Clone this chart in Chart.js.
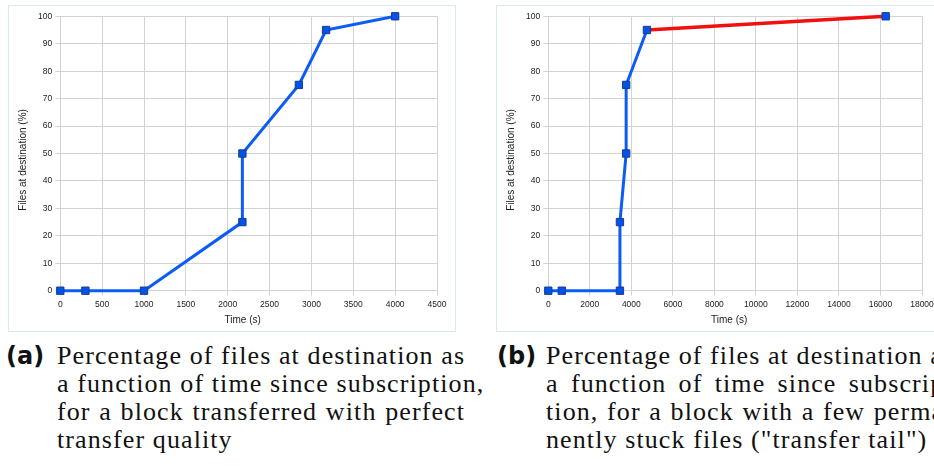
<!DOCTYPE html>
<html>
<head>
<meta charset="utf-8">
<script src="https://cdn.jsdelivr.net/npm/chart.js@4/dist/chart.umd.min.js"></script>
<style>
  html, body { margin: 0; padding: 0; background: #ffffff; }
  body { width: 934px; height: 468px; overflow: hidden; position: relative; }
  .panel { position: absolute; top: 5px; width: 446px; height: 325px; border: 1px solid #d9e8f5; background: #fff; }
  .panel canvas { display: block; }
  .tag { position: absolute; font-family: "DejaVu Sans", sans-serif; font-weight: bold; font-size: 24px; line-height: 28px; color: #111; }
  .cap { position: absolute; font-family: "Liberation Serif", "Times New Roman", serif; font-size: 26px; line-height: 28px; color: #111; letter-spacing: 1.1px; white-space: nowrap; }
  .cap div { height: 28px; }
  .cap .j { text-align: justify; text-align-last: justify; }
</style>
</head>
<body>
<div class="panel" id="boxA" style="left:8px;"><canvas id="chartA" width="446" height="325"></canvas></div>
<div class="panel" id="boxB" style="left:496px;"><canvas id="chartB" width="446" height="325"></canvas></div>

<div class="tag" style="left:6px; top:342px;">(a)</div>
<div class="cap" style="left:57px; top:342px; width:408px;">
  <div class="j">Percentage of files at destination as</div>
  <div class="j">a function of time since subscription,</div>
  <div class="j">for a block transferred with perfect</div>
  <div>transfer quality</div>
</div>

<div class="tag" style="left:497px; top:342px;">(b)</div>
<div class="cap" style="left:546px; top:342px; width:408px;">
  <div class="j">Percentage of files at destination as</div>
  <div class="j">a function of time since subscrip-</div>
  <div class="j">tion, for a block with a few perma-</div>
  <div>nently stuck files ("transfer tail")</div>
</div>

<script>
// Block (a): perfect transfer quality
const timesA = [0, 300, 1000, 2175, 2175, 2850, 3175, 4000];
const filesA = [0, 0, 0, 25, 50, 75, 95, 100];
const xTicksA = [0, 500, 1000, 1500, 2000, 2500, 3000, 3500, 4000, 4500];

// Block (b): a few permanently stuck files; the last step is the transfer tail
const timesB = [0, 650, 3450, 3450, 3750, 3750, 4750, 16250];
const filesB = [0, 0, 0, 25, 50, 75, 95, 100];
const xTicksB = [0, 2000, 4000, 6000, 8000, 10000, 12000, 14000, 16000, 18000];
const tailStartB = 6;

const yTicks = [0, 10, 20, 30, 40, 50, 60, 70, 80, 90, 100];

const xTitle = 'Time (s)';
const yTitle = 'Files at destination (%)';

const LINE_BLUE = '#0b5cf6';
const POINT_BLUE = '#0052ea';
const POINT_EDGE = '#1c3c90';
const TAIL_RED = '#f01010';
const GRID = '#d3d3d3';
const TICK_FONT = { family: '"Liberation Sans", Arial, sans-serif', size: 8.5 };

// Axis titles placed around the plot area
const axisTitles = {
  id: 'axisTitles',
  afterDraw(chart) {
    const { ctx, chartArea } = chart;
    ctx.save();
    ctx.fillStyle = '#222';
    ctx.font = '10px "Liberation Sans", Arial, sans-serif';
    ctx.textAlign = 'center';
    ctx.textBaseline = 'middle';
    ctx.fillText(xTitle, chartArea.left + chartArea.width / 2 - 6, chartArea.bottom + 30);
    ctx.translate(14, chartArea.top + chartArea.height / 2 + 6.5);
    ctx.rotate(-Math.PI / 2);
    ctx.fillText(yTitle, 0, 0);
    ctx.restore();
  }
};

function makeChart(canvasId, times, files, xTicks, padRight, tailStart) {
  const pts = times.map((t, i) => ({ x: t, y: files[i] }));
  const inTail = ctx => tailStart !== null && ctx.p0DataIndex >= tailStart;
  return new Chart(document.getElementById(canvasId), {
    type: 'line',
    data: {
      datasets: [{
        data: pts,
        clip: false,
        borderColor: LINE_BLUE,
        borderWidth: 3,
        pointStyle: 'rect',
        pointRadius: 5.2,
        pointHoverRadius: 5.2,
        pointBackgroundColor: POINT_BLUE,
        pointBorderColor: POINT_EDGE,
        pointBorderWidth: 1,
        tension: 0,
        fill: false,
        segment: {
          borderColor: ctx => inTail(ctx) ? TAIL_RED : undefined,
          borderWidth: ctx => inTail(ctx) ? 3.5 : undefined
        }
      }]
    },
    options: {
      responsive: false,
      devicePixelRatio: 1,
      animation: false,
      events: [],
      layout: { padding: { top: 10.3, right: padRight, bottom: 0, left: 0 } },
      plugins: { legend: { display: false }, tooltip: { enabled: false } },
      scales: {
        x: {
          type: 'linear',
          min: xTicks[0],
          max: xTicks[xTicks.length - 1],
          afterBuildTicks: s => { s.ticks = xTicks.map(v => ({ value: v })); },
          afterFit: s => { s.height = 40.3; },
          grid: { color: GRID, tickColor: GRID, tickLength: 5, lineWidth: 1 },
          border: { color: GRID },
          ticks: { font: TICK_FONT, color: '#222', padding: 4, maxRotation: 0, autoSkip: false, callback: v => String(v) }
        },
        y: {
          min: 0,
          max: 100,
          afterBuildTicks: s => { s.ticks = yTicks.map(v => ({ value: v })); },
          afterFit: s => { s.width = 51.3; },
          grid: { color: GRID, tickColor: GRID, tickLength: 5, lineWidth: 1 },
          border: { color: GRID },
          ticks: { font: TICK_FONT, color: '#222', padding: 3, callback: v => String(v) }
        }
      }
    },
    plugins: [axisTitles]
  });
}

makeChart('chartA', timesA, filesA, xTicksA, 18, null);
makeChart('chartB', timesB, filesB, xTicksB, 21, tailStartB);
</script>
</body>
</html>
